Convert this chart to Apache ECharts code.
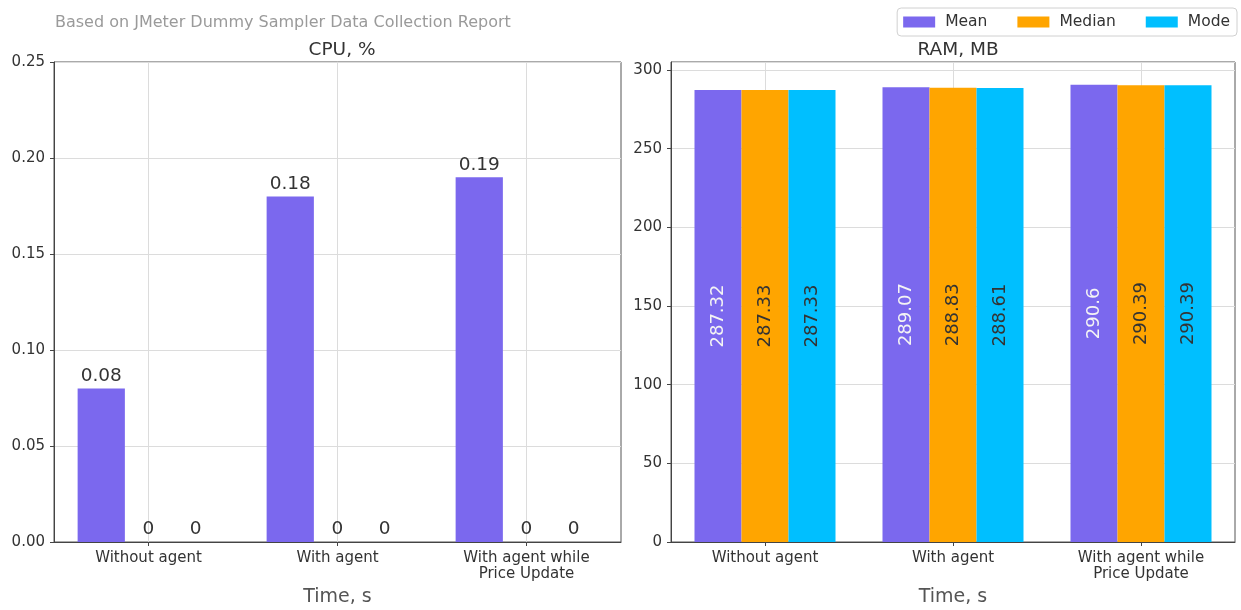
<!DOCTYPE html>
<html><head><meta charset="utf-8">
<script src="https://cdn.jsdelivr.net/npm/echarts@6/dist/echarts.min.js"></script>
<style>html,body{margin:0;padding:0;background:#fff}#c{width:1241px;height:610px}</style>
</head><body><div id="c"></div>
<script>
const categories = ['Without agent', 'With agent', 'With agent while\nPrice Update'];
const seriesNames = ['Mean', 'Median', 'Mode'];
const cpuMean = [0.08, 0.18, 0.19];
const cpuMedian = [0, 0, 0];
const cpuMode = [0, 0, 0];
const ramMean = [287.32, 289.07, 290.6];
const ramMedian = [287.33, 288.83, 290.39];
const ramMode = [287.33, 288.61, 290.39];
const cpuTicks = [0, 0.05, 0.10, 0.15, 0.20, 0.25];
const ramTicks = [0, 50, 100, 150, 200, 250, 300];
const colors = ['#7B68EE', '#FFA500', '#00BFFF'];

const FONT = 'DejaVu Sans';
const chart = echarts.init(document.getElementById('c'));
const gridLine = {show: true, lineStyle: {color: '#dcdcdc', width: 1}};
const helperCats = ['a','b','c','d','e','f','g'];

function xAxes(gi) {
  return [
    {type: 'category', gridIndex: gi, data: categories,
     axisLine: {show: true, lineStyle: {color: '#444'}},
     axisTick: {show: true, alignWithLabel: true, length: 4, lineStyle: {color: '#444'}},
     axisLabel: {color: '#333', fontSize: 15, fontFamily: FONT, margin: 8, lineHeight: 16},
     splitLine: {show: false},
     name: 'Time, s', nameLocation: 'middle', nameGap: 46,
     nameTextStyle: {color: '#555', fontSize: 19, fontFamily: FONT}},
    {type: 'category', gridIndex: gi, data: helperCats, boundaryGap: false,
     position: 'bottom', axisLine: {show: false}, axisTick: {show: false},
     axisLabel: {show: false},
     splitLine: {show: true, interval: (i) => i % 2 === 1, lineStyle: {color: '#dcdcdc', width: 1}}}
  ];
}

const xs = xAxes(0).concat(xAxes(1));

function barSeries(name, data, xi, yi, idx, label) {
  return {type: 'bar', name: name, data: data, xAxisIndex: xi, yAxisIndex: yi,
    itemStyle: {color: colors[idx]}, barGap: '0%', barCategoryGap: '25%', z: 3,
    label: label};
}

const cpuLabel = {show: true, position: 'top', distance: 3, color: '#333', fontSize: 18.5, fontFamily: FONT};
const ramLabel = (c) => ({show: true, position: 'inside', rotate: 90, color: c, fontSize: 18, fontFamily: FONT});

chart.setOption({
  animation: false,
  textStyle: {fontFamily: FONT},
  title: [
    {text: 'Based on JMeter Dummy Sampler Data Collection Report', left: 50, top: 10,
     textStyle: {color: '#9a9a9a', fontSize: 16, fontWeight: 'normal', fontFamily: FONT}},
    {text: 'CPU, %', left: 337, top: 36, textAlign: 'center',
     textStyle: {color: '#333', fontSize: 18.5, fontWeight: 'normal', fontFamily: FONT}},
    {text: 'RAM, MB', left: 953, top: 36, textAlign: 'center',
     textStyle: {color: '#333', fontSize: 18.5, fontWeight: 'normal', fontFamily: FONT}}
  ],
  legend: {data: seriesNames, right: 4, top: 8, itemWidth: 32, itemHeight: 11, itemGap: 30,
    borderColor: '#d0d0d0', borderWidth: 1, borderRadius: 4, padding: [6, 7, 6, 6],
    icon: 'rect', textStyle: {color: '#333', fontSize: 15.5, fontFamily: FONT, padding: [0, 0, 0, 5]}},
  grid: [
    {left: 54, right: 620, top: 62, bottom: 68, outerBoundsMode: 'none', show: true, borderColor: '#555', borderWidth: 1, backgroundColor: 'transparent'},
    {left: 671, right: 6, top: 62, bottom: 68, outerBoundsMode: 'none', show: true, borderColor: '#555', borderWidth: 1, backgroundColor: 'transparent'}
  ],
  xAxis: xs,
  yAxis: [
    {type: 'value', gridIndex: 0, min: cpuTicks[0], max: cpuTicks[cpuTicks.length - 1], interval: 0.05,
     axisLine: {show: true, lineStyle: {color: '#444'}},
     axisTick: {show: true, length: 4, lineStyle: {color: '#444'}},
     axisLabel: {color: '#333', fontSize: 15, fontFamily: FONT, margin: 9, formatter: (v) => v.toFixed(2)},
     splitLine: gridLine},
    {type: 'value', gridIndex: 1, min: 0, max: 305.13, interval: 50,
     axisLine: {show: true, lineStyle: {color: '#444'}},
     axisTick: {show: true, length: 4, lineStyle: {color: '#444'}},
     axisLabel: {color: '#333', fontSize: 15, fontFamily: FONT, margin: 9, showMaxLabel: false,
       formatter: (v) => ramTicks.indexOf(v) >= 0 ? String(v) : ''},
     splitLine: gridLine}
  ],
  series: [
    barSeries('Mean', cpuMean, 0, 0, 0, cpuLabel),
    barSeries('Median', cpuMedian, 0, 0, 1, cpuLabel),
    barSeries('Mode', cpuMode, 0, 0, 2, cpuLabel),
    barSeries('Mean', ramMean, 2, 1, 0, ramLabel('#f4f4f4')),
    barSeries('Median', ramMedian, 2, 1, 1, ramLabel('#333')),
    barSeries('Mode', ramMode, 2, 1, 2, ramLabel('#333'))
  ]
});
</script></body></html>
